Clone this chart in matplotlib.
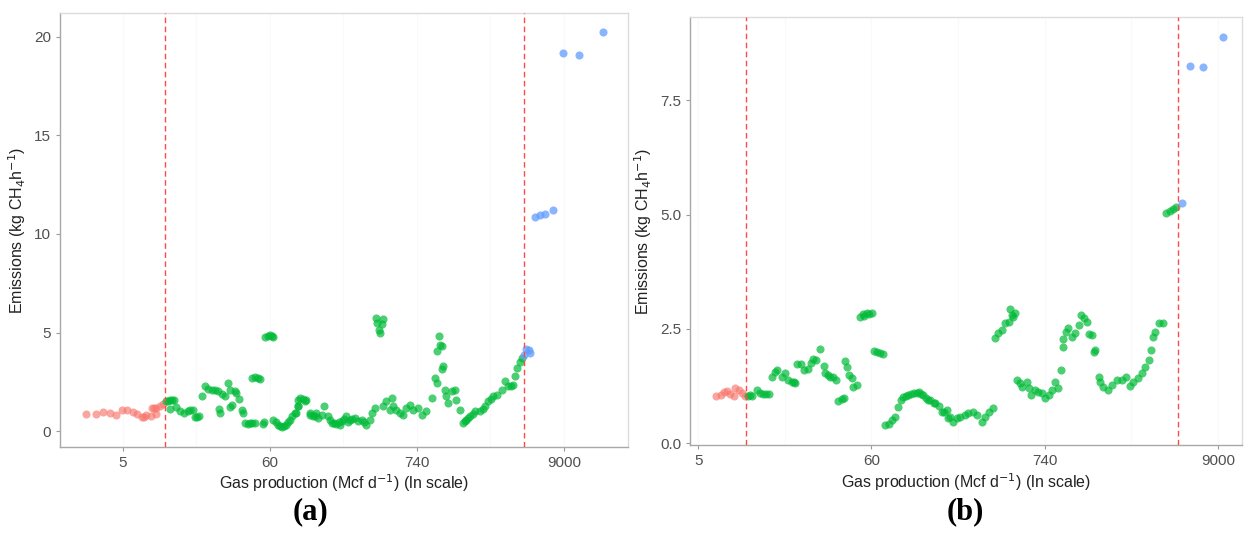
import matplotlib
matplotlib.use("Agg")
from matplotlib import pyplot as plt

# x values are ln(gas production, Mcf/d); y values are emissions in kg CH4/h
tick_pos = [1.6, 4.1, 6.6, 9.1]
tick_labels = ["5", "60", "740", "9000"]

# panel (a)
a_red_x = [0.97, 1.14, 1.27, 1.38, 1.48, 1.58, 1.67, 1.78, 1.84, 1.92, 1.96, 2.00, 2.07, 2.16, 2.10, 2.13, 2.17, 2.23, 2.28]
a_red_y = [0.87, 0.87, 0.97, 0.92, 0.80, 1.06, 1.06, 0.96, 0.87, 0.70, 0.72, 0.84, 0.75, 0.87, 1.18, 1.20, 1.18, 1.26, 1.40]

a_green_x = [2.33, 2.37, 2.40, 2.44, 2.47, 2.40, 2.51, 2.57, 2.64, 2.71, 2.79, 2.75, 2.82, 2.86, 2.90,
             2.94, 2.99, 3.05, 3.11, 3.16, 3.22, 3.28, 3.33, 3.39, 3.42, 3.50, 3.53, 3.58, 3.45, 3.43, 3.24, 3.25, 3.62, 3.65,
             3.68, 3.72, 3.76, 3.80, 3.84, 3.99, 4.00,
             3.80, 3.85, 3.90, 3.93,
             4.02, 4.06, 4.10, 4.14, 4.16,
             4.16, 4.20, 4.24, 4.27, 4.30, 4.34, 4.38, 4.41, 4.44, 4.48, 4.53, 4.58, 4.58, 4.61, 4.67, 4.70, 4.72, 4.55, 4.58,
             4.78, 4.78, 4.84, 4.87, 4.89, 4.92, 4.98, 5.02, 5.09,
             5.12, 5.15, 5.19, 5.23, 5.27, 5.29, 5.32, 5.36, 5.40, 5.43, 5.46, 5.50, 5.55, 5.60, 5.66, 5.70, 5.73, 5.80, 5.84, 5.89,
             5.91, 6.03, 5.93, 6.01, 5.95, 5.98,
             6.03, 6.08, 6.14, 6.17, 6.20, 6.25, 6.31, 6.37, 6.42, 6.48, 6.54, 6.62, 6.68, 6.76,
             6.85, 6.91, 6.94, 6.97, 6.99, 7.02, 6.95, 7.05, 7.03,
             7.08, 7.10, 7.13, 7.19, 7.25, 7.27, 7.33, 7.39, 7.41, 7.44, 7.47, 7.50, 7.55, 7.59, 7.67, 7.72, 7.76, 7.81,
             7.86, 7.90, 7.96, 8.04, 8.10, 8.15, 8.20, 8.24, 8.27, 8.31, 8.35, 8.38]
a_green_y = [1.51, 1.55, 1.60, 1.58, 1.56, 1.13, 1.23, 1.01, 0.92, 1.01, 1.06, 1.08, 0.72, 0.74, 0.75,
             1.80, 2.27, 2.14, 2.07, 2.11, 2.02, 1.90, 1.77, 2.45, 2.07, 2.02, 1.94, 1.63, 1.35, 1.23, 1.13, 0.92, 1.09, 0.92,
             0.40, 0.38, 0.40, 0.42, 0.43, 0.38, 0.46,
             2.68, 2.74, 2.72, 2.66,
             4.75, 4.85, 4.88, 4.85, 4.78,
             0.58, 0.45, 0.33, 0.25, 0.19, 0.26, 0.33, 0.45, 0.58, 0.75, 0.92, 1.26, 1.60, 1.68, 1.63, 1.51, 1.60, 0.92, 1.29,
             0.92, 0.84, 0.75, 0.75, 0.92, 0.67, 0.84, 1.29, 0.79,
             0.55, 0.42, 0.40, 0.38, 0.45, 0.30, 0.50, 0.62, 0.75, 0.48, 0.58, 0.62, 0.67, 0.50, 0.58, 0.45, 0.33, 0.55, 0.92, 1.18,
             5.75, 5.70, 5.49, 5.41, 5.15, 4.98,
             1.26, 1.51, 1.09, 1.68, 1.26, 1.09, 0.92, 0.84, 1.18, 1.35, 1.09, 1.18, 0.84, 1.01,
             1.68, 2.70, 2.45, 4.81, 4.39, 4.30, 4.05, 3.29, 3.16,
             2.11, 1.77, 1.43, 2.02, 2.07, 1.60, 1.09, 0.42, 0.50, 0.58, 0.66, 0.75, 0.88, 1.01, 1.01, 1.14, 1.26, 1.51,
             1.64, 1.77, 1.85, 2.11, 2.53, 2.27, 2.30, 2.36, 2.78, 3.21, 3.50, 3.72]

a_blue_x = [8.42, 8.46, 8.50, 8.53, 8.61, 8.69, 8.78, 8.91, 9.09, 9.35, 9.76]
a_blue_y = [3.85, 4.17, 4.10, 3.97, 10.87, 10.97, 11.00, 11.21, 19.15, 19.06, 20.24]

a_cuts = [2.31, 8.42]
a_yticks = [0, 5, 10, 15, 20]
a_yticklabels = ["0", "5", "10", "15", "20"]

# panel (b)
b_red_x = [1.85, 1.92, 1.97, 2.01, 2.06, 2.11, 2.13, 2.18, 2.23, 2.28]
b_red_y = [1.03, 1.05, 1.12, 1.14, 1.07, 1.03, 1.20, 1.16, 1.09, 1.03]

b_green_x = [2.31, 2.34, 2.37, 2.45, 2.49, 2.53, 2.57, 2.62,
             2.66, 2.71, 2.74, 2.81, 2.85, 2.89, 2.95, 2.98, 3.00,
             3.03, 3.08, 3.12, 3.18, 3.22, 3.26, 3.30, 3.36, 3.41, 3.43, 3.47, 3.50, 3.55, 3.59,
             3.62, 3.67, 3.71,
             3.72, 3.75, 3.77, 3.82, 3.84, 3.89,
             3.93, 3.98, 3.99, 4.03, 4.07, 4.11,
             4.13, 4.18, 4.23, 4.27,
             4.30, 4.35, 4.40, 4.44, 4.48, 4.52, 4.56, 4.60, 4.63, 4.67, 4.71, 4.75, 4.78, 4.82, 4.85, 4.89,
             4.92, 4.95, 5.00, 5.02, 5.07, 5.12, 5.14, 5.19, 5.21,
             5.24, 5.28, 5.33, 5.38, 5.45, 5.50, 5.57, 5.62, 5.69, 5.74, 5.79, 5.86,
             5.89, 5.93, 5.98, 6.03, 6.08, 6.10, 6.13, 6.15, 6.17,
             6.20, 6.25, 6.28, 6.34, 6.37, 6.41, 6.46, 6.51, 6.56, 6.61, 6.66, 6.70, 6.75, 6.80,
             6.84,
             6.87, 6.87, 6.91, 6.94, 6.99, 7.04, 7.09, 7.13, 7.17, 7.21,
             7.24, 7.29, 7.32, 7.33,
             7.38, 7.40, 7.45, 7.51, 7.57, 7.64, 7.71, 7.77, 7.83, 7.88, 7.95, 8.01, 8.05, 8.10, 8.14, 8.17, 8.20, 8.25, 8.31,
             8.35, 8.41, 8.46, 8.50]
b_green_y = [1.03, 1.05, 1.03, 1.17, 1.09, 1.08, 1.07, 1.07,
             1.45, 1.56, 1.61, 1.45, 1.54, 1.39, 1.34, 1.33, 1.32,
             1.74, 1.74, 1.60, 1.63, 1.76, 1.85, 1.82, 2.07, 1.68, 1.54, 1.49, 1.44, 1.45, 1.39,
             0.93, 0.96, 0.98,
             1.79, 1.66, 1.49, 1.42, 1.22, 1.27,
             2.76, 2.82, 2.78, 2.84, 2.83, 2.84,
             2.01, 2.00, 1.98, 1.95,
             0.39, 0.43, 0.50, 0.58, 0.79, 0.94, 1.00, 1.03, 1.05, 1.07, 1.09, 1.10, 1.12, 1.08, 1.05, 0.99,
             0.94, 0.94, 0.87, 0.87, 0.81, 0.68, 0.69, 0.72, 0.54,
             0.58, 0.47, 0.54, 0.58, 0.61, 0.65, 0.68, 0.61, 0.47, 0.58, 0.68, 0.76,
             2.29, 2.40, 2.47, 2.62, 2.65, 2.93, 2.80, 2.76, 2.84,
             1.38, 1.31, 1.23, 1.34, 1.20, 1.05, 1.16, 1.12, 1.09, 0.98, 1.05, 1.16, 1.34, 1.20,
             1.60,
             2.11, 2.27, 2.44, 2.51, 2.33, 2.40, 2.58, 2.80, 2.73, 2.65,
             2.39, 2.36, 2.00, 2.04,
             1.45, 1.34, 1.23, 1.16, 1.27, 1.38, 1.38, 1.45, 1.25, 1.34, 1.42, 1.53, 1.66, 1.82, 2.04, 2.33, 2.44, 2.62, 2.63,
             5.03, 5.08, 5.13, 5.17]

b_blue_x = [8.58, 8.70, 8.88, 9.18]
b_blue_y = [5.26, 8.25, 8.23, 8.89]

b_cuts = [2.29, 8.53]
b_yticks = [0.0, 2.5, 5.0, 7.5]
b_yticklabels = ["0.0", "2.5", "5.0", "7.5"]

plt.rcParams['font.family'] = ['Liberation Sans', 'DejaVu Sans']

RED = '#F8766D'
GREEN = '#00BA38'
BLUE = '#619CFF'


def draw_panel(ax, red, green, blue, cuts, yticks, yticklabels, xlim, ylim):
    ax.set_xlim(*xlim)
    ax.set_ylim(*ylim)
    # very faint background grid
    minor = [(tick_pos[i] + tick_pos[i + 1]) / 2 for i in range(len(tick_pos) - 1)]
    for gx in tick_pos + minor:
        ax.axvline(gx, color='#F9F9F9', lw=0.8, zorder=0)
    ax.scatter(red[0], red[1], s=34, color=RED, alpha=0.65, lw=0, zorder=2)
    ax.scatter(green[0], green[1], s=34, color=GREEN, alpha=0.7, lw=0, zorder=2)
    ax.scatter(blue[0], blue[1], s=34, color=BLUE, alpha=0.75, lw=0, zorder=2)
    for c in cuts:
        ax.axvline(c, color='#FF4A4A', lw=1.0, ls=(0, (4, 2.5)), zorder=3)
    ax.set_xticks(tick_pos)
    ax.set_xticklabels(tick_labels)
    ax.set_yticks(yticks)
    ax.set_yticklabels(yticklabels)
    ax.tick_params(colors='#9A9A9A', labelcolor='#505050', labelsize=11, length=3, width=0.8)
    for side in ['top', 'right']:
        ax.spines[side].set_color('#DCDCDC')
    for side in ['left', 'bottom']:
        ax.spines[side].set_color('#A8A8A8')
    for s in ax.spines.values():
        s.set_linewidth(1.0)
    ax.set_xlabel('Gas production (Mcf d$^{-1}$) (ln scale)', fontsize=11.5, color='#222222', labelpad=2)
    ax.set_ylabel('Emissions (kg CH$_4$h$^{-1}$)', fontsize=11.5, color='#222222', labelpad=4)


fig = plt.figure(figsize=(12.44, 5.33), dpi=100, facecolor='white')
ax1 = fig.add_axes([0.0482, 0.1614, 0.4566, 0.8142])
ax2 = fig.add_axes([0.5547, 0.1651, 0.4437, 0.8030])

draw_panel(ax1, (a_red_x, a_red_y), (a_green_x, a_green_y), (a_blue_x, a_blue_y),
           a_cuts, a_yticks, a_yticklabels, (0.53, 10.19), (-0.8, 21.2))
draw_panel(ax2, (b_red_x, b_red_y), (b_green_x, b_green_y), (b_blue_x, b_blue_y),
           b_cuts, b_yticks, b_yticklabels, (1.48, 9.45), (-0.04, 9.32))

fig.text(0.250, 0.040, '(a)', ha='center', va='center', fontsize=22, fontweight='bold', family='Liberation Serif')
fig.text(0.776, 0.040, '(b)', ha='center', va='center', fontsize=22, fontweight='bold', family='Liberation Serif')

fig.savefig('out.png', dpi=100, facecolor='white')
